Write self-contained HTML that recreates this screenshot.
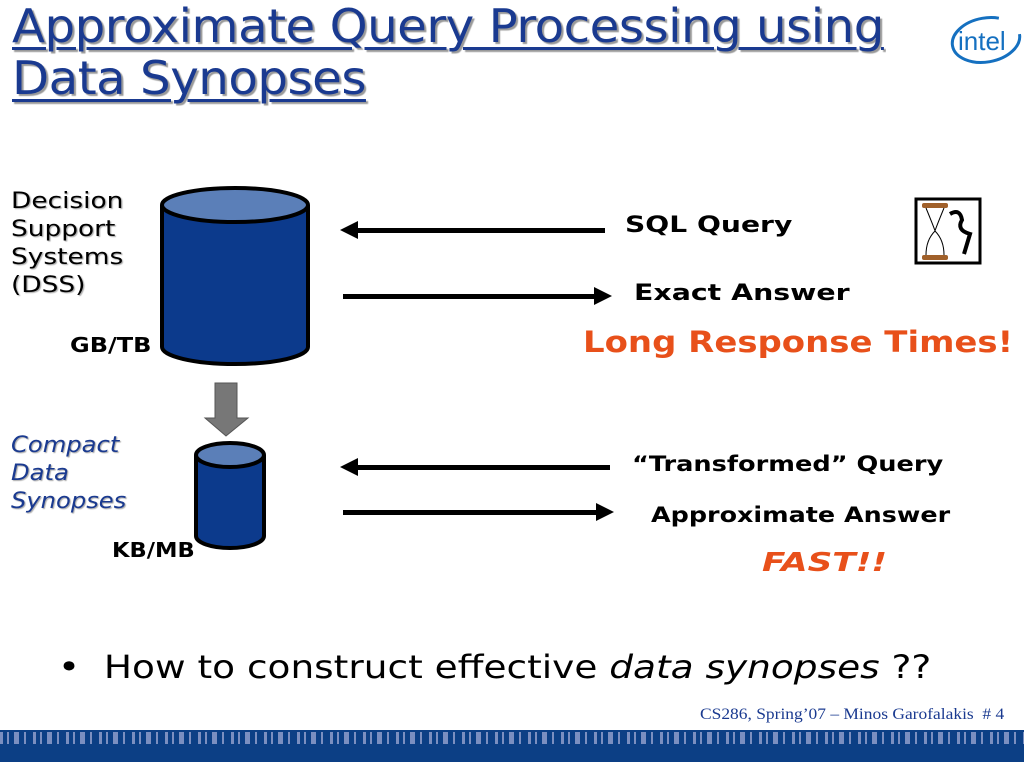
<!DOCTYPE html>
<html><head><meta charset="utf-8"><style>
body{margin:0;width:1024px;height:768px;background:#fff;position:relative;overflow:hidden;font-family:"DejaVu Sans","Liberation Sans",sans-serif}
.a{position:absolute;white-space:nowrap;transform-origin:0 0}
.t{left:12px;font-size:46px;color:#1a3a90;text-decoration:underline;text-decoration-thickness:3px;text-underline-offset:5px;text-shadow:2px 2px 1px #999;letter-spacing:-0.5px;line-height:52px;transform:scaleX(1.05)}
.l{font-size:22px;line-height:28px;text-shadow:1px 1px 1px #aaa}
.b{font-weight:bold;font-size:22px;color:#000}
</style></head><body>
<div class="a t" style="top:0px">Approximate Query Processing using</div>
<div class="a t" style="top:52px">Data Synopses</div>
<svg class="a" style="left:948px;top:14px" width="76" height="52"><ellipse cx="38" cy="26" rx="34" ry="22" fill="none" stroke="#1570c0" stroke-width="3" stroke-dasharray="150 40" transform="rotate(-10 38 26)"/><text x="10" y="36" font-family="Liberation Sans" font-size="26" fill="#1570c0">intel</text></svg>

<div class="a l" style="left:11px;top:188px;transform:scaleX(1.2)">Decision<br>Support<br>Systems<br>(DSS)</div>
<div class="a b" style="left:70px;top:333px;font-size:20px;transform:scaleX(1.2)">GB/TB</div>
<div class="a l" style="left:11px;top:432px;color:#1a3a90;font-style:italic;transform:scaleX(1.1)">Compact<br>Data<br>Synopses</div>
<div class="a b" style="left:112px;top:538px;font-size:20px;transform:scaleX(1.13)">KB/MB</div>

<svg class="a" style="left:0;top:0" width="1024" height="720">
<g stroke="#000" stroke-width="4">
<path d="M162 205 V347 A73 17 0 0 0 308 347 V205" fill="#0c3a8c"/>
<ellipse cx="235" cy="205" rx="73" ry="17" fill="#5b7fb8"/>
<path d="M196 455 V536 A34 12 0 0 0 264 536 V455" fill="#0c3a8c"/>
<ellipse cx="230" cy="455" rx="34" ry="12" fill="#5b7fb8"/>
</g>
<path d="M215 383 H237 V418 H248 L226 436 L205 418 H215 Z" fill="#777" stroke="#555" stroke-width="1"/>
<g fill="#000">
<rect x="355" y="228" width="250" height="5"/><path d="M340 230 L358 221 V239 Z"/>
<rect x="343" y="294" width="252" height="5"/><path d="M612 296 L594 287 V305 Z"/>
<rect x="355" y="465" width="255" height="5"/><path d="M340 467 L358 458 V476 Z"/>
<rect x="343" y="510" width="254" height="5"/><path d="M614 512 L596 503 V521 Z"/>
</g>
<rect x="916" y="199" width="64" height="64" fill="#fff" stroke="#000" stroke-width="3"/>
<rect x="922" y="203" width="26" height="5" rx="2" fill="#a0602a"/><rect x="922" y="255" width="26" height="5" rx="2" fill="#a0602a"/>
<path d="M926 208 Q935 230 935 231 Q926 240 926 255 M944 208 Q935 230 935 231 Q944 240 944 255" stroke="#000" fill="none"/>
<path d="M950 214 q10-6 12 6 q-6 10 8 14 l-6 20" stroke="#000" stroke-width="4" fill="none"/>
</svg>

<div class="a b" style="left:625px;top:213px;transform:scaleX(1.28)">SQL Query</div>
<div class="a b" style="left:634px;top:281px;transform:scaleX(1.29)">Exact Answer</div>
<div class="a" style="left:583px;top:325px;font-size:29px;font-weight:bold;color:#e8501a;transform:scaleX(1.17)">Long Response Times!</div>
<div class="a b" style="left:632px;top:452px;font-size:21px;transform:scaleX(1.22)">“Transformed” Query</div>
<div class="a b" style="left:651px;top:503px;font-size:21px;transform:scaleX(1.21)">Approximate Answer</div>
<div class="a" style="left:762px;top:548px;font-size:26px;font-weight:bold;font-style:italic;color:#e8501a;transform:scaleX(1.32)">FAST!!</div>

<div class="a" style="left:58px;top:648px;font-size:32px;transform:scaleX(1.17)">•&nbsp; How to construct effective <i>data synopses</i> ??</div>
<div class="a" style="left:700px;top:706px;font-family:'Liberation Serif',serif;font-size:16px;color:#1a3a90;transform:scaleX(1.09)">CS286, Spring’07 – Minos Garofalakis &nbsp;# 4</div>
<div class="a" style="left:0;top:730px;width:1024px;height:32px;background:#0c3f85"></div>
<div class="a" style="left:0;top:732px;width:1024px;height:12px;background:repeating-linear-gradient(90deg,#7b8fc0 0 3px,#0c3f85 3px 7px,#7b8fc0 7px 9px,#0c3f85 9px 14px,#7b8fc0 14px 19px,#0c3f85 19px 24px,#7b8fc0 24px 26px,#0c3f85 26px 33px)"></div>
</body></html>
